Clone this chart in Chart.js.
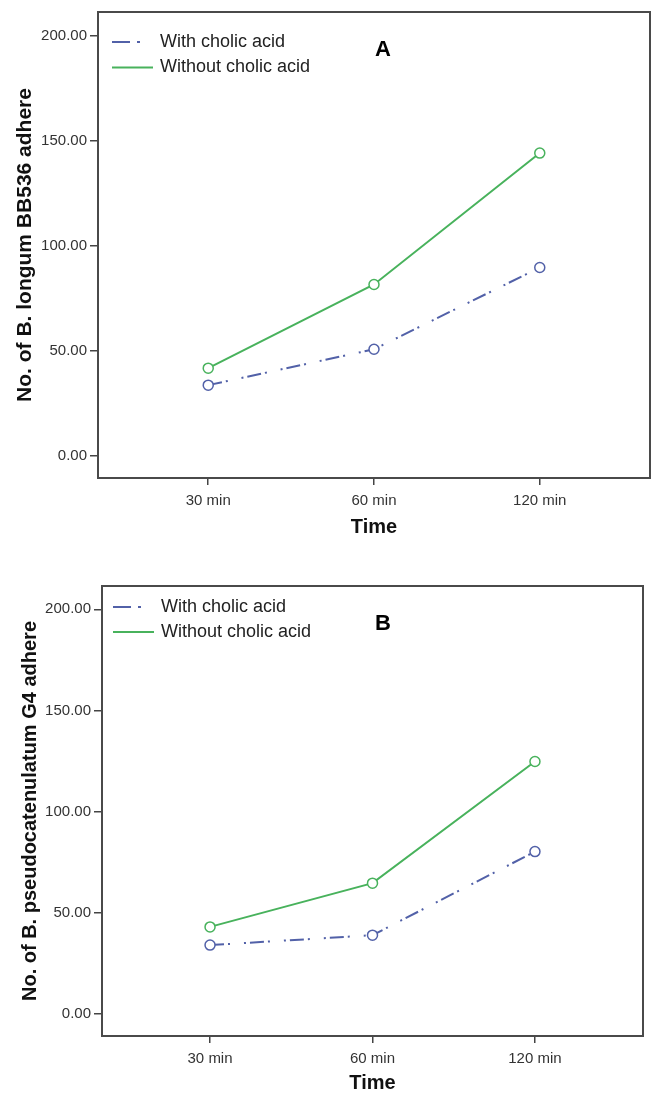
<!DOCTYPE html>
<html>
<head>
<meta charset="utf-8">
<title>Adhesion over time</title>
<script src="https://cdn.jsdelivr.net/npm/chart.js@4.4.0/dist/chart.umd.min.js"></script>
<style>
  html, body { margin: 0; padding: 0; background: #fff; overflow: hidden; }
  #wrap { position: relative; width: 657px; height: 1093px; }
  canvas { position: absolute; left: 0; }
  #chartA { top: 0; }
  #chartB { top: 545px; }
</style>
</head>
<body>
<div id="wrap">
  <canvas id="chartA" width="657" height="550"></canvas>
  <canvas id="chartB" width="657" height="548"></canvas>
</div>
<script>
// time points and axis ticks
const timeLabels = ['30 min', '60 min', '120 min'];
const yTickValues = [0, 50, 100, 150, 200];
const seriesNames = ['With cholic acid', 'Without cholic acid'];

// B. longum BB536
const longumWith = [33.5, 50.6, 89.6];
const longumWithout = [41.6, 81.5, 144.2];

// B. pseudocatenulatum G4
const pseudoWith = [34.1, 39.0, 80.3];
const pseudoWithout = [43.1, 64.7, 124.8];

const FONT = "'Liberation Sans', Arial, sans-serif";
const BLUE = '#5261a8';
const GREEN = '#48b25c';

// frame, in-plot legend and panel letter
const panelDecor = {
    id: 'panelDecor',
    afterDatasetsDraw(chart, args, opts) {
        const ctx = chart.ctx;
        const area = chart.chartArea;
        ctx.save();

        ctx.strokeStyle = '#4a4a4a';
        ctx.lineWidth = 2;
        ctx.strokeRect(area.left, area.top, area.right - area.left, area.bottom - area.top);

        chart.data.datasets.forEach((ds, i) => {
            const y = area.top + opts.legendY + i * opts.legendGap;
            const x0 = area.left + opts.legendX;
            // short sample: one dash and one dot for the dash-dot series
            ctx.setLineDash(ds.borderDash && ds.borderDash.length ? [18, 7, 3, 40] : []);
            ctx.strokeStyle = ds.borderColor;
            ctx.lineWidth = ds.borderWidth;
            ctx.beginPath();
            ctx.moveTo(x0, y);
            ctx.lineTo(x0 + 41, y);
            ctx.stroke();
            ctx.setLineDash([]);
            ctx.fillStyle = '#222';
            ctx.font = '18px ' + FONT;
            ctx.textBaseline = 'middle';
            ctx.textAlign = 'left';
            ctx.fillText(ds.label, x0 + 48, y);
        });

        ctx.fillStyle = '#000';
        ctx.font = 'bold 22px ' + FONT;
        ctx.textAlign = 'center';
        ctx.textBaseline = 'middle';
        ctx.fillText(opts.letter, area.left + opts.letterX, area.top + opts.letterY);
        ctx.restore();
    }
};

function toPoints(values) {
    return values.map((v, i) => ({ x: i, y: v }));
}

function makeDataset(label, values, color, dash) {
    return {
        label: label,
        data: toPoints(values),
        borderColor: color,
        borderWidth: 2,
        borderDash: dash,
        pointRadius: 5,
        pointHoverRadius: 5,
        pointBorderWidth: 1.5,
        pointBorderColor: color,
        pointBackgroundColor: '#fff',
        tension: 0
    };
}

function buildChart(canvasId, withVals, withoutVals, yTitle, cfg) {
    new Chart(document.getElementById(canvasId), {
        type: 'line',
        data: {
            datasets: [
                makeDataset(seriesNames[0], withVals, BLUE, [14, 4, 2, 14, 2, 4]),
                makeDataset(seriesNames[1], withoutVals, GREEN, [])
            ]
        },
        options: {
            responsive: false,
            animation: false,
            layout: { padding: { top: cfg.padTop, right: cfg.padRight, left: 0, bottom: 0 } },
            plugins: {
                legend: { display: false },
                tooltip: { enabled: false },
                panelDecor: cfg.decor
            },
            scales: {
                x: {
                    type: 'linear',
                    min: -0.665,
                    max: 2.665,
                    afterBuildTicks: s => { s.ticks = timeLabels.map((t, i) => ({ value: i })); },
                    afterFit: s => { s.height = cfg.xHeight; },
                    border: { display: false },
                    grid: { drawOnChartArea: false, tickLength: 7, color: '#444', lineWidth: 1.5 },
                    ticks: {
                        padding: 7,
                        color: '#333',
                        font: { family: FONT, size: 15 },
                        maxRotation: 0,
                        callback: v => timeLabels[v]
                    },
                    title: {
                        display: true,
                        text: 'Time',
                        color: '#111',
                        padding: { top: 0, bottom: cfg.xTitlePad },
                        font: { family: FONT, size: 20, weight: 'bold', lineHeight: 1 }
                    }
                },
                y: {
                    min: -10.8,
                    max: 211.5,
                    afterBuildTicks: s => { s.ticks = yTickValues.map(v => ({ value: v })); },
                    afterFit: s => { s.width = cfg.yWidth; },
                    border: { display: false },
                    grid: { drawOnChartArea: false, tickLength: 8, color: '#444', lineWidth: 1.5 },
                    ticks: {
                        padding: 3,
                        color: '#333',
                        font: { family: FONT, size: 15 },
                        callback: v => v.toFixed(2)
                    },
                    title: {
                        display: true,
                        text: yTitle,
                        color: '#111',
                        padding: { top: cfg.yTitlePad, bottom: 0 },
                        font: { family: FONT, size: cfg.yTitleSize, weight: 'bold', lineHeight: 1 }
                    }
                }
            }
        },
        plugins: [panelDecor]
    });
}

buildChart('chartA', longumWith, longumWithout, 'No. of B. longum BB536 adhere', {
    padTop: 7, padRight: 7, yWidth: 98, xHeight: 72,
    xTitlePad: 13, yTitlePad: 15, yTitleSize: 21,
    decor: { legendX: 14, legendY: 30, legendGap: 25.5, letter: 'A', letterX: 285, letterY: 38 }
});

buildChart('chartB', pseudoWith, pseudoWithout, 'No. of B. pseudocatenulatum G4 adhere', {
    padTop: 41, padRight: 14, yWidth: 102, xHeight: 57,
    xTitlePad: 0, yTitlePad: 20, yTitleSize: 20,
    decor: { legendX: 11, legendY: 21, legendGap: 25, letter: 'B', letterX: 281, letterY: 38 }
});
</script>
</body>
</html>
